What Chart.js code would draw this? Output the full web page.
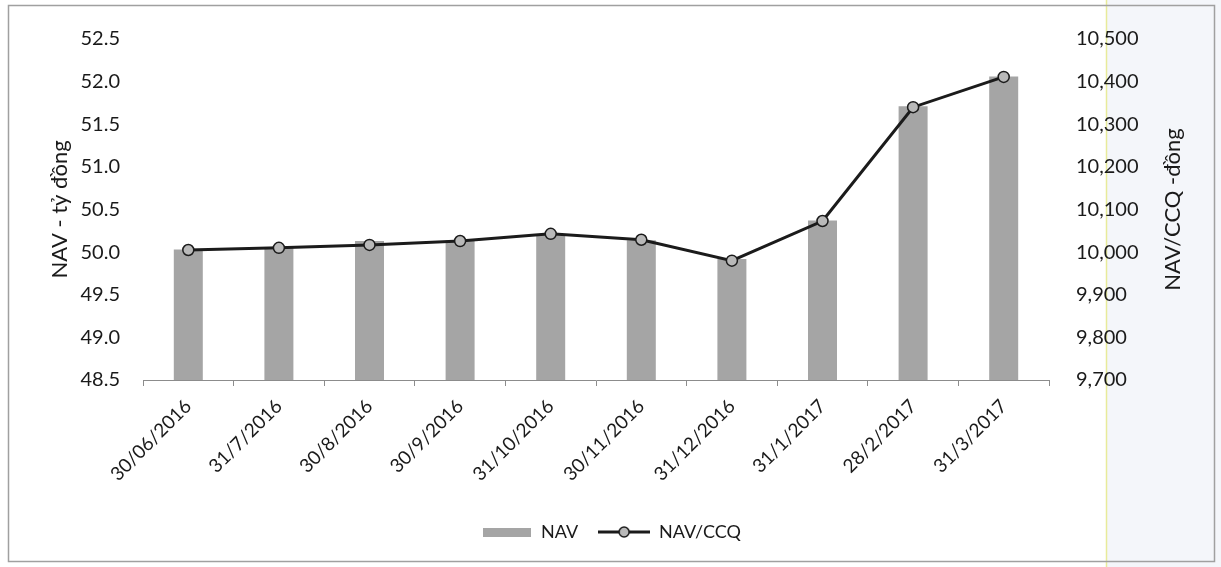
<!DOCTYPE html>
<html>
<head>
<meta charset="utf-8">
<script src="https://cdn.jsdelivr.net/npm/chart.js@4.4.1/dist/chart.umd.min.js"></script>
<style>
    html, body { margin: 0; padding: 0; background: #fff; }
    #wrap { width: 1221px; height: 567px; position: relative; }
</style>
</head>
<body>
<div id="wrap"><canvas id="navChart" width="1221" height="567"></canvas></div>
<script>
// Data
const dates = ['30/06/2016', '31/7/2016', '30/8/2016', '30/9/2016', '31/10/2016',
               '30/11/2016', '31/12/2016', '31/1/2017', '28/2/2017', '31/3/2017'];
const navValues = [50.03, 50.05, 50.13, 50.14, 50.20, 50.14, 49.92, 50.37, 51.71, 52.06];
const navPerUnit = [10005, 10010, 10017, 10026, 10043, 10029, 9980, 10073, 10340, 10411];

const navAxis = { min: 48.5, max: 52.5, step: 0.5 };
const unitAxis = { min: 9700, max: 10500, step: 100 };

const FONT = 'Lato, "Open Sans", sans-serif';
const TEXT_COLOR = '#1a1a1a';
const BAR_COLOR = '#a5a5a5';
const LINE_COLOR = '#1b1b1b';
const MARKER_FILL = '#b9b9b9';

// Legend swatches drawn on small canvases, used as point styles
function makeBarSwatch() {
    const c = document.createElement('canvas');
    c.width = 52; c.height = 10;
    const g = c.getContext('2d');
    g.fillStyle = BAR_COLOR;
    g.fillRect(3, 1, 48, 9);
    return c;
}

function makeLineSwatch() {
    const c = document.createElement('canvas');
    c.width = 52; c.height = 14;
    const g = c.getContext('2d');
    g.strokeStyle = LINE_COLOR;
    g.lineWidth = 3;
    g.beginPath(); g.moveTo(0, 7); g.lineTo(52, 7); g.stroke();
    g.beginPath(); g.arc(26, 7, 5, 0, Math.PI * 2);
    g.fillStyle = MARKER_FILL; g.fill();
    g.lineWidth = 1.5; g.stroke();
    return c;
}

// page frame, scan artefacts and the right axis title
const framePlugin = {
    id: 'frame',
    beforeDraw(chart) {
        const ctx = chart.ctx;
        ctx.save();
        ctx.fillStyle = '#ffffff';
        ctx.fillRect(0, 0, chart.width, chart.height);
        ctx.fillStyle = '#f4f6fa';
        ctx.fillRect(1107, 0, chart.width - 1107, chart.height);
        ctx.strokeStyle = '#e8eb9a';
        ctx.lineWidth = 1.5;
        ctx.beginPath(); ctx.moveTo(1106.5, 0); ctx.lineTo(1106.5, chart.height); ctx.stroke();
        ctx.strokeStyle = '#a0a0a0';
        ctx.lineWidth = 1.5;
        ctx.strokeRect(8.5, 5.5, 1206, 556);
        ctx.restore();
    },
    afterDraw(chart) {
        const ctx = chart.ctx;
        const area = chart.chartArea;
        ctx.save();
        ctx.translate(1173, (area.top + area.bottom) / 2);
        ctx.rotate(-Math.PI / 2);
        ctx.font = '22px ' + FONT;
        ctx.fillStyle = TEXT_COLOR;
        ctx.textAlign = 'center';
        ctx.textBaseline = 'middle';
        ctx.fillText('NAV/CCQ -đồng', 0, 0);
        ctx.restore();
    }
};

const barSwatch = makeBarSwatch();
const lineSwatch = makeLineSwatch();

new Chart(document.getElementById('navChart'), {
    type: 'bar',
    data: {
        labels: dates,
        datasets: [
            {
                label: 'NAV',
                data: navValues,
                yAxisID: 'yNav',
                backgroundColor: BAR_COLOR,
                barPercentage: 0.32,
                categoryPercentage: 1,
                order: 2
            },
            {
                type: 'line',
                label: 'NAV/CCQ',
                data: navPerUnit,
                yAxisID: 'yUnit',
                borderColor: LINE_COLOR,
                borderWidth: 3,
                pointRadius: 5.5,
                pointBackgroundColor: MARKER_FILL,
                pointBorderColor: LINE_COLOR,
                pointBorderWidth: 1.5,
                tension: 0,
                order: 1
            }
        ]
    },
    options: {
        responsive: false,
        animation: false,
        layout: { padding: { top: 35, bottom: 16, left: 0, right: 0 } },
        plugins: {
            tooltip: { enabled: false },
            legend: {
                position: 'bottom',
                labels: {
                    usePointStyle: true,
                    pointStyleWidth: 52,
                    padding: 20,
                    color: TEXT_COLOR,
                    font: { family: FONT, size: 18 },
                    generateLabels: () => [
                        { text: 'NAV', pointStyle: barSwatch, fillStyle: BAR_COLOR, strokeStyle: BAR_COLOR, lineWidth: 0, hidden: false, datasetIndex: 0, fontColor: TEXT_COLOR },
                        { text: 'NAV/CCQ', pointStyle: lineSwatch, fillStyle: MARKER_FILL, strokeStyle: LINE_COLOR, lineWidth: 0, hidden: false, datasetIndex: 1, fontColor: TEXT_COLOR }
                    ]
                }
            }
        },
        scales: {
            x: {
                afterFit: scale => { scale.height = 123; },
                grid: { offset: true, drawOnChartArea: false, drawTicks: true, tickLength: 6, color: '#8c8c8c' },
                border: { color: '#8c8c8c', width: 1 },
                ticks: {
                    color: TEXT_COLOR,
                    font: { family: FONT, size: 19 },
                    minRotation: 45,
                    maxRotation: 45,
                    autoSkip: false,
                    padding: 9
                }
            },
            yNav: {
                position: 'left',
                min: navAxis.min,
                max: navAxis.max,
                afterFit: scale => { scale.width = 143; },
                grid: { display: false, drawTicks: false },
                border: { display: false },
                ticks: {
                    stepSize: navAxis.step,
                    autoSkip: false,
                    padding: 23,
                    color: TEXT_COLOR,
                    font: { family: FONT, size: 20 },
                    callback: v => v.toFixed(1)
                },
                title: {
                    display: true,
                    text: 'NAV - tỷ đồng',
                    color: TEXT_COLOR,
                    font: { family: FONT, size: 22 },
                    padding: { top: 47, bottom: 0 }
                }
            },
            yUnit: {
                position: 'right',
                min: unitAxis.min,
                max: unitAxis.max,
                afterFit: scale => { scale.width = 172; },
                grid: { display: false, drawTicks: false },
                border: { display: false },
                ticks: {
                    stepSize: unitAxis.step,
                    autoSkip: false,
                    padding: 27,
                    color: TEXT_COLOR,
                    font: { family: FONT, size: 20 },
                    callback: v => v.toLocaleString('en-US')
                }
            }
        }
    },
    plugins: [framePlugin]
});
</script>
</body>
</html>
